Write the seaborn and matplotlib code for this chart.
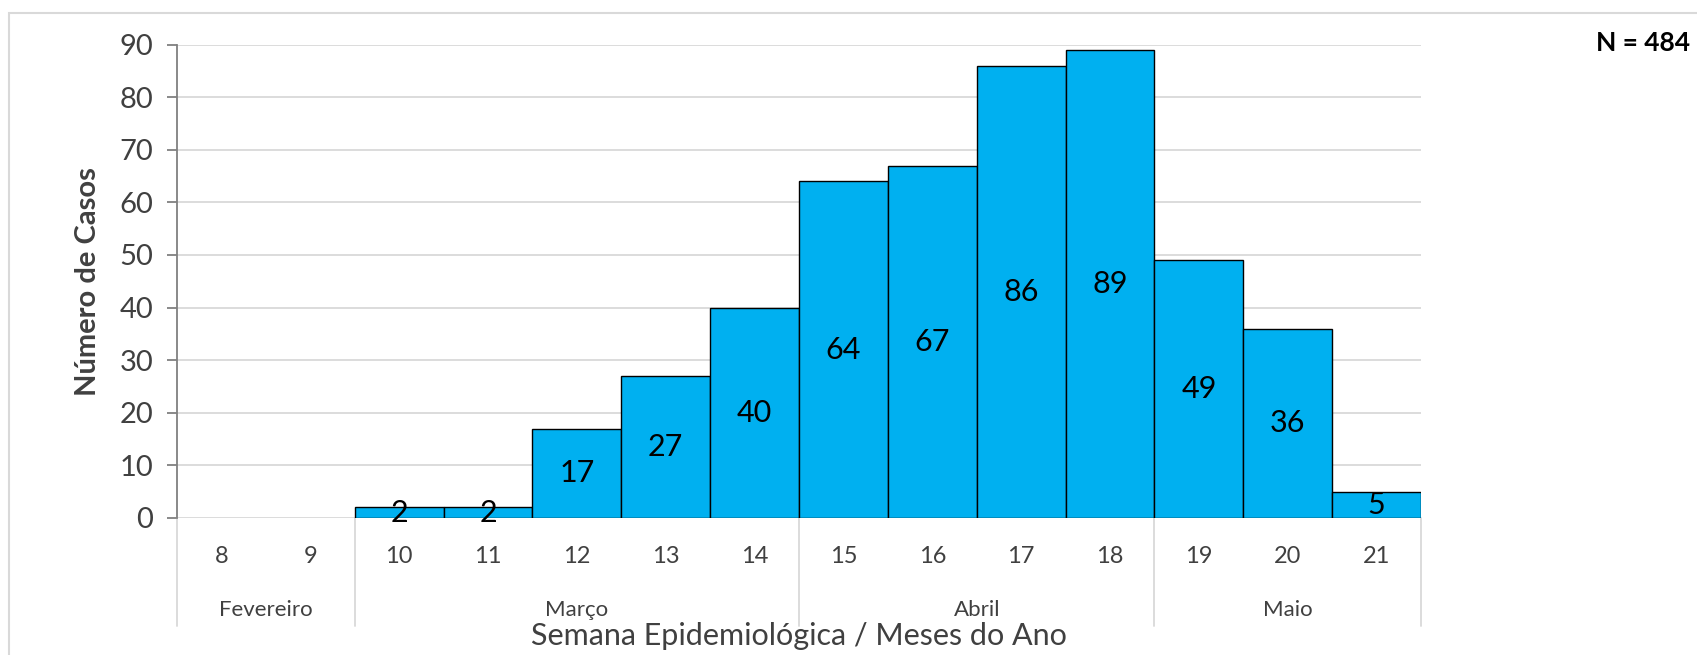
import matplotlib
matplotlib.use("Agg")
import matplotlib.pyplot as plt
import matplotlib.transforms as mtransforms
from matplotlib.patches import Rectangle
import numpy as np
import pandas as pd
import seaborn as sns

# Epidemiological weeks and confirmed cases per week
weeks = ["8", "9", "10", "11", "12", "13", "14", "15", "16", "17", "18", "19", "20", "21"]
cases = [0, 0, 2, 2, 17, 27, 40, 64, 67, 86, 89, 49, 36, 5]
# Months and how many weeks fall into each
months = ["Fevereiro", "Março", "Abril", "Maio"]
weeks_per_month = [2, 5, 4, 3]
yticks = [0, 10, 20, 30, 40, 50, 60, 70, 80, 90]
total_label = "N = 484"

sns.set_style("white")
plt.rcParams["font.family"] = ["Lato", "DejaVu Sans"]

W, H = 1697, 655
fig = plt.figure(figsize=(W / 100, H / 100), dpi=100)
ax = fig.add_axes([177 / W, (H - 518) / H, (1421 - 177) / W, (518 - 44.5) / H])

df = pd.DataFrame({"semana": weeks, "casos": cases})
sns.barplot(data=df, x="semana", y="casos", order=weeks, color="#00B0F0",
            width=1.0, edgecolor="black", linewidth=1.0, saturation=1,
            ax=ax, zorder=3)

cont = ax.containers[0]
for patch, v in zip(cont.patches, cases):
    if v == 0:
        patch.set_linewidth(0)
ax.bar_label(cont, labels=[str(v) if v > 0 else "" for v in cases],
             label_type="center", fontsize=22, color="black", zorder=4)

ax.set_xlim(-0.5, len(weeks) - 0.5)
ax.set_ylim(0, 90)
ax.set_yticks(yticks)
ax.set_axisbelow(True)
ax.yaxis.grid(True, color="#d9d9d9", linewidth=1.3)
ax.xaxis.grid(False)

for s in ["top", "right", "bottom"]:
    ax.spines[s].set_visible(False)
ax.spines["left"].set_color("#808080")
ax.spines["left"].set_linewidth(1.3)
ax.tick_params(axis="y", direction="out", length=7, width=1.3, color="#808080",
               labelsize=21, labelcolor="#404040", pad=10, left=True)
ax.tick_params(axis="x", length=0, labelsize=17, labelcolor="#404040", pad=20)
ax.set_xlabel("")
ax.set_ylabel("Número de Casos", fontsize=21, fontweight="bold", color="#404040",
              va="center")
ax.yaxis.set_label_coords((88 - 177) / (1421 - 177), 0.5)

# Month group separators and month names below the week labels
trans = mtransforms.blended_transform_factory(ax.transData, ax.transAxes)
y_sep_bottom = -(626 - 518) / (518 - 44.5)
y_month = -(610 - 518) / (518 - 44.5)
bounds = np.concatenate([[0], np.cumsum(weeks_per_month)]) - 0.5
for b in bounds:
    ax.plot([b, b], [0, y_sep_bottom], transform=trans, color="#d9d9d9",
            linewidth=1.3, clip_on=False, zorder=1)
for name, lo, hi in zip(months, bounds[:-1], bounds[1:]):
    ax.text((lo + hi) / 2, y_month, name, transform=trans, ha="center",
            va="center", fontsize=16, color="#404040")

fig.text((177 + 1421) / 2 / W, 1 - 636 / H, "Semana Epidemiológica / Meses do Ano",
         ha="center", va="center", fontsize=22, color="#404040")
fig.text(1690 / W, 1 - 43 / H, total_label, ha="right", va="center",
         fontsize=19, fontweight="bold", color="black")

# Light chart-area border
fig.patches.append(Rectangle((9 / W, -0.2), 1.5, 1.2 - 13 / H, transform=fig.transFigure,
                             fill=False, edgecolor="#d9d9d9", linewidth=1.5))

fig.savefig("out.png", dpi=100)
